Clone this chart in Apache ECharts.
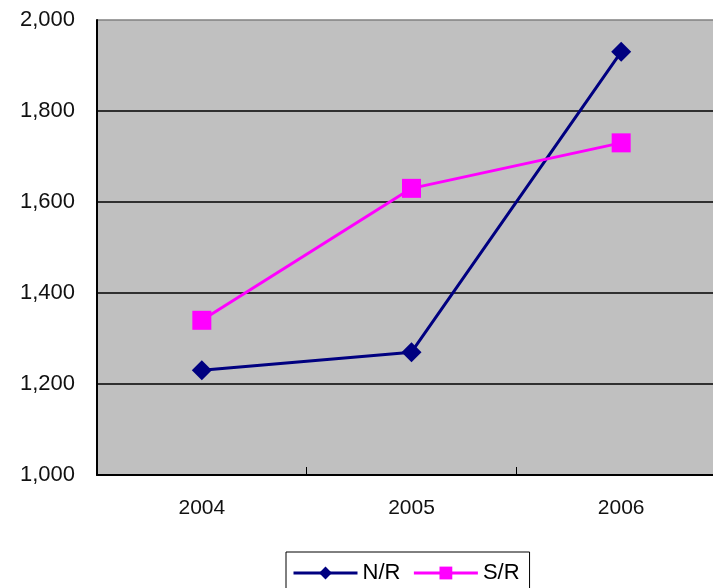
<!DOCTYPE html>
<html>
<head>
<meta charset="utf-8">
<script src="https://cdn.jsdelivr.net/npm/echarts@6/dist/echarts.min.js"></script>
<style>html,body{margin:0;padding:0;background:#fff;overflow:hidden;width:713px;height:588px;}#c{width:726px;height:588px;}</style>
</head>
<body>
<div id="c"></div>
<script>
const categories = ['2004', '2005', '2006'];
const nrValues = [1230, 1270, 1930];
const srValues = [1340, 1630, 1730];
const yMin = 1000, yMax = 2000, yStep = 200;

const chart = echarts.init(document.getElementById('c'));
const font = 'Liberation Sans';
chart.setOption({
  animation: false,
  backgroundColor: '#fff',
  grid: { left: 97, right: 0, top: 20, bottom: 113, show: true, backgroundColor: '#C0C0C0', borderWidth: 0 },
  legend: {
    bottom: -8, left: 286,
    padding: [10, 10, 12, 6],
    borderColor: '#000', borderWidth: 1,
    itemWidth: 64, itemHeight: 16, itemGap: 12,
    lineStyle: { width: 3 },
    textStyle: { fontFamily: font, fontSize: 22, color: '#000' },
    data: ['N/R', 'S/R']
  },
  xAxis: {
    type: 'category', data: categories, boundaryGap: true,
    axisLine: { lineStyle: { color: '#000', width: 2 } },
    axisTick: { show: true, inside: true, length: 8, alignWithLabel: false, lineStyle: { color: '#000', width: 1 } },
    axisLabel: { fontFamily: font, fontSize: 21, color: '#111', margin: 23 }
  },
  yAxis: {
    type: 'value', min: yMin, max: yMax, interval: yStep,
    axisLine: { show: true, lineStyle: { color: '#000', width: 2 } },
    axisTick: { show: false },
    axisLabel: { fontFamily: font, fontSize: 22, color: '#111', margin: 22,
      formatter: v => v.toLocaleString('en-US') },
    splitLine: { show: true, lineStyle: { color: ['#000', '#000', '#000', '#000', '#000', '#808080'], width: 1.5 } }
  },
  series: [
    { name: 'N/R', type: 'line', data: nrValues, symbol: 'diamond', symbolSize: 20,
      lineStyle: { color: '#000080', width: 3 }, itemStyle: { color: '#000080' } },
    { name: 'S/R', type: 'line', data: srValues, symbol: 'rect', symbolSize: 19,
      lineStyle: { color: '#FF00FF', width: 3 }, itemStyle: { color: '#FF00FF' } }
  ]
});
</script>
</body>
</html>
